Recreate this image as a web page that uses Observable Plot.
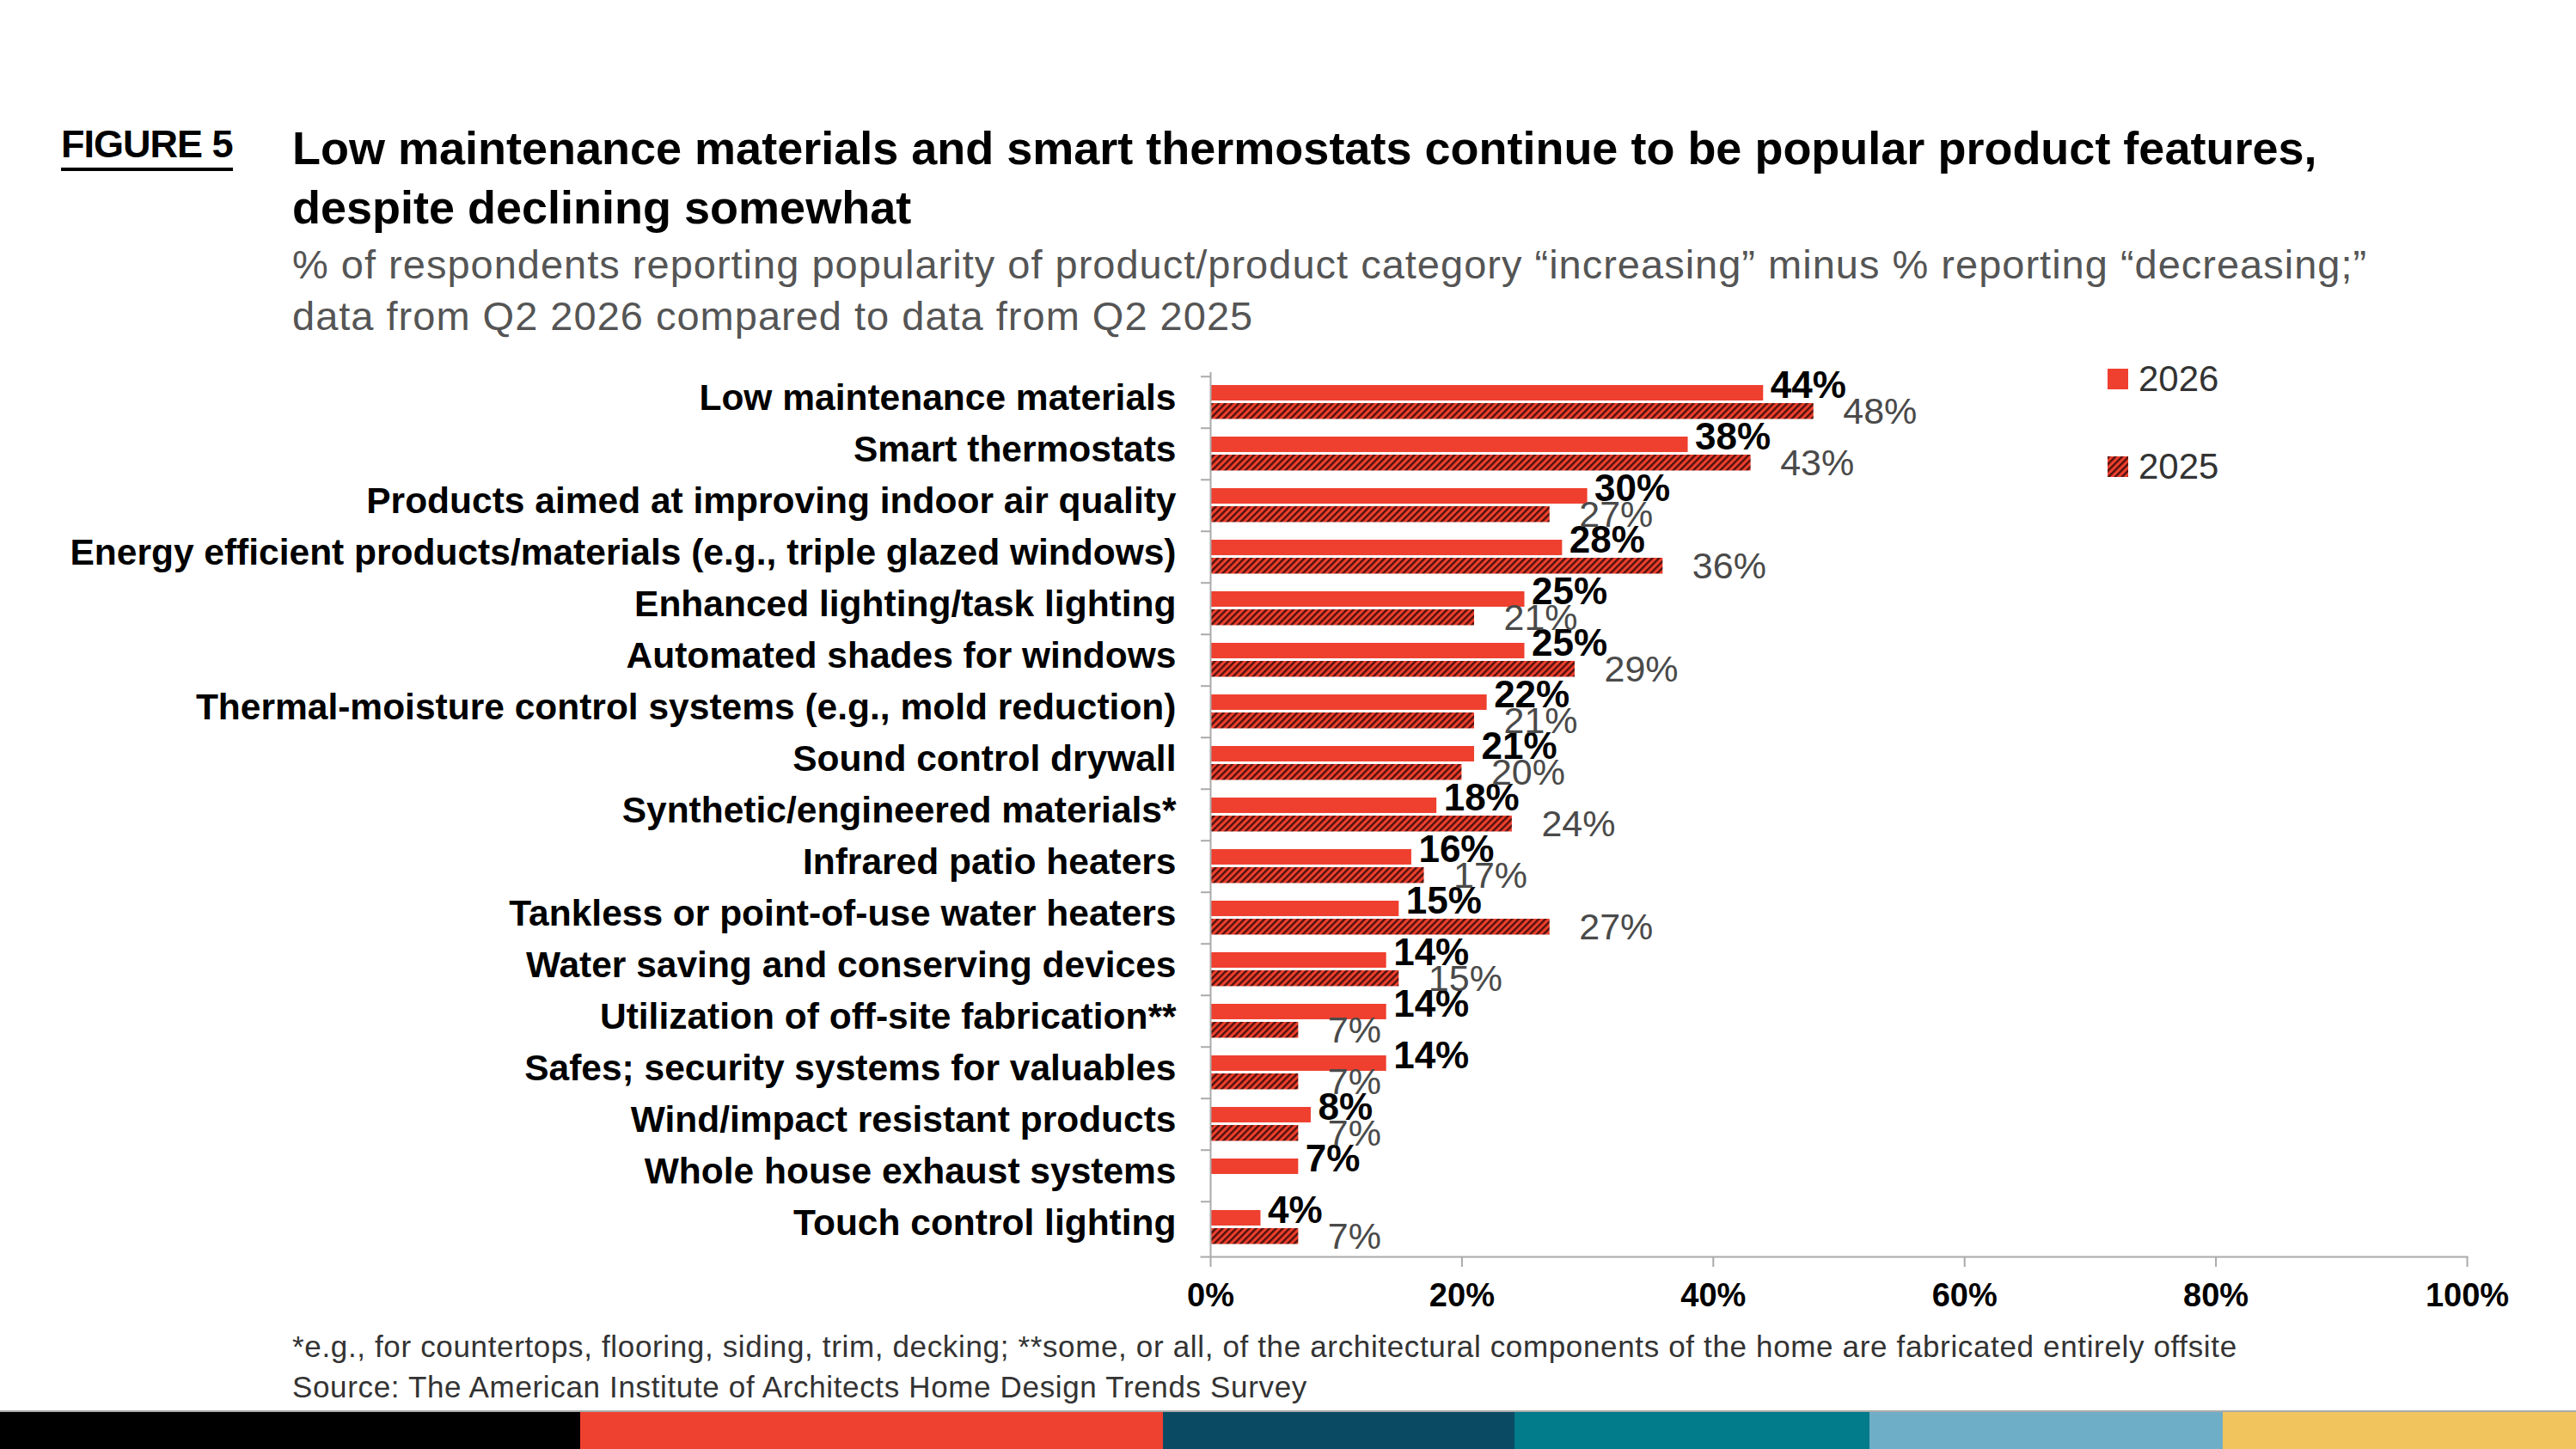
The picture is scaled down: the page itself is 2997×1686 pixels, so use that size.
<!DOCTYPE html>
<html>
<head>
<meta charset="utf-8">
<script src="https://cdn.jsdelivr.net/npm/d3@7"></script>
<script src="https://cdn.jsdelivr.net/npm/@observablehq/plot@0.6"></script>
<style>
  html, body { margin: 0; padding: 0; background: #fff; }
  body { width: 2997px; height: 1686px; position: relative; overflow: hidden;
         font-family: "Liberation Sans", Arial, sans-serif; color: #000; }
  .abs { position: absolute; white-space: nowrap; }
  #fig { left: 71px; top: 141px; font-size: 45px; font-weight: bold; line-height: 54px;
         border-bottom: 4px solid #000; letter-spacing: -1px; }
  #title { left: 340px; top: 138px; font-size: 54px; font-weight: bold; line-height: 69px; }
  #subtitle { left: 340px; top: 278px; font-size: 47px; line-height: 60px; color: #555; letter-spacing: 1px; }
  #legend { left: 2452px; top: 410px; font-size: 42px; color: #333; }
  .leg { position: absolute; left: 0; display: flex; align-items: center; white-space: nowrap; }
  .leg svg { margin-right: 12px; }
  #notes { left: 340px; top: 1543px; font-size: 35px; line-height: 47px; color: #333; letter-spacing: 0.65px; }
  #chart { position: absolute; left: 0; top: 400px; }
  #band { position: absolute; left: 0; top: 1641px; width: 2997px; height: 45px; border-top: 2px solid #aaa; display: flex; }
  #band div { height: 45px; }
</style>
</head>
<body>
<div id="fig" class="abs">FIGURE 5</div>
<div id="title" class="abs">Low maintenance materials and smart thermostats continue to be popular product features,<br>despite declining somewhat</div>
<div id="subtitle" class="abs">% of respondents reporting popularity of product/product category “increasing” minus % reporting “decreasing;”<br>data from Q2 2026 compared to data from Q2 2025</div>
<div id="legend" class="abs"></div>
<div id="chart"></div>
<div id="notes" class="abs">*e.g., for countertops, flooring, siding, trim, decking; **some, or all, of the architectural components of the home are fabricated entirely offsite<br>Source: The American Institute of Architects Home Design Trends Survey</div>
<div id="band"></div>
<script>
// ---- data ----
const categories = [
  "Low maintenance materials",
  "Smart thermostats",
  "Products aimed at improving indoor air quality",
  "Energy efficient products/materials (e.g., triple glazed windows)",
  "Enhanced lighting/task lighting",
  "Automated shades for windows",
  "Thermal-moisture control systems (e.g., mold reduction)",
  "Sound control drywall",
  "Synthetic/engineered materials*",
  "Infrared patio heaters",
  "Tankless or point-of-use water heaters",
  "Water saving and conserving devices",
  "Utilization of off-site fabrication**",
  "Safes; security systems for valuables",
  "Wind/impact resistant products",
  "Whole house exhaust systems",
  "Touch control lighting"
];
const values2026 = [44, 38, 30, 28, 25, 25, 22, 21, 18, 16, 15, 14, 14, 14, 8, 7, 4];
const values2025 = [48, 43, 27, 36, 21, 29, 21, 20, 24, 17, 27, 15, 7, 7, 7, null, 7];
const seriesNames = ["2026", "2025"];
const xTicks = [0, 20, 40, 60, 80, 100];
const footerColors = ["#000000", "#EF4130", "#0B4A63", "#027B8B", "#6FAEC7", "#F2C45D"];
const footerWidths = [675, 678, 409, 413, 411, 411];

const RED = "#EF3F2E";
const DARK = "#4E120C";

const rows26 = categories.map((c, i) => ({category: c, value: values2026[i]}));
const rows25 = categories.map((c, i) => ({category: c, value: values2025[i]})).filter(d => d.value != null);

// ---- layout ----
const W = 2997, H = 1140;
const mTop = 33, mBottom = 78, mLeft = 1408, mRight = 127;
const step = (H - mTop - mBottom) / categories.length;

const hatchMark = () => {
  const defs = d3.create("svg:defs");
  defs.html(`<pattern id="hatch" patternUnits="userSpaceOnUse" width="5.5" height="5.5" patternTransform="rotate(45)">
      <rect width="5.5" height="5.5" fill="${RED}"></rect>
      <rect width="2.4" height="5.5" fill="${DARK}"></rect>
    </pattern>`);
  return defs.node();
};

const chart = Plot.plot({
  width: W,
  height: H,
  marginTop: mTop,
  marginBottom: mBottom,
  marginLeft: mLeft,
  marginRight: mRight,
  style: {fontFamily: '"Liberation Sans", Arial, sans-serif', background: "transparent"},
  x: {domain: [0, 100], label: null},
  y: {domain: categories, padding: 0, label: null},
  marks: [
    hatchMark,
    Plot.barX(rows26, {x: "value", y: "category", fill: RED, insetTop: 10, insetBottom: step - 28.5}),
    Plot.barX(rows25, {x: "value", y: "category", fill: "url(#hatch)", insetTop: 31, insetBottom: step - 50}),
    Plot.ruleX([0], {stroke: "#aaa", strokeWidth: 2}),
    Plot.frame({anchor: "bottom", stroke: "#aaa", strokeWidth: 2, insetLeft: -11}),
    Plot.axisY({tickSize: 11, tickFormat: () => "", dy: -step / 2, stroke: "#aaa", strokeWidth: 2}),
    Plot.axisY({tickSize: 0, tickPadding: 40, fontSize: 42.5, fontWeight: "bold", fill: "#000", label: null, dy: -5}),
    Plot.axisX({ticks: xTicks, tickFormat: d => d + "%", tickSize: 12, tickPadding: 19, fontSize: 38, fontWeight: "bold", fill: "#000", stroke: "#aaa", strokeWidth: 2, label: null}),
    Plot.text(rows26, {x: "value", y: "category", text: d => d.value + "%", textAnchor: "start", dx: 8, dy: -20, fontSize: 44, fontWeight: "bold", fill: "#000"}),
    Plot.text(rows25, {x: "value", y: "category", text: d => d.value + "%", textAnchor: "start", dx: 34, dy: 11, fontSize: 43, fill: "#4a4a4a"})
  ]
});
document.getElementById("chart").appendChild(chart);

// ---- legend ----
const legend = d3.select("#legend");
seriesNames.forEach((s, i) => {
  const item = legend.append("div").attr("class", "leg").style("top", (i * 102) + "px").style("height", "62px");
  const sv = item.append("svg").attr("width", 24).attr("height", 24);
  if (i === 0) {
    sv.append("rect").attr("width", 24).attr("height", 24).attr("fill", RED);
  } else {
    sv.append("defs").html(`<pattern id="hatchL" patternUnits="userSpaceOnUse" width="5.5" height="5.5" patternTransform="rotate(45)">
      <rect width="5.5" height="5.5" fill="${RED}"></rect><rect width="2.4" height="5.5" fill="${DARK}"></rect></pattern>`);
    sv.append("rect").attr("width", 24).attr("height", 24).attr("fill", "url(#hatchL)");
  }
  item.append("span").text(s);
});

// ---- footer band ----
const band = d3.select("#band");
footerColors.forEach((c, i) => band.append("div").style("width", footerWidths[i] + "px").style("background", c));
</script>
</body>
</html>
